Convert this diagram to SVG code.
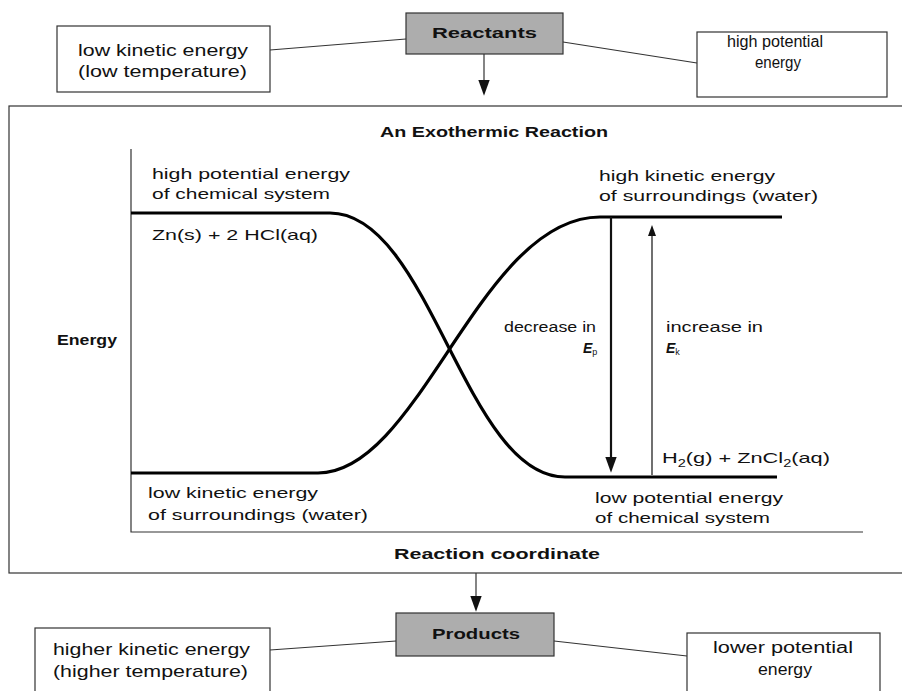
<svg xmlns="http://www.w3.org/2000/svg" width="902" height="691" viewBox="0 0 902 691">
<defs>
<style>
.t{font-family:"Liberation Sans",Arial,sans-serif;fill:#111;}
.b{font-weight:bold;}
.box{fill:#fff;stroke:#333;stroke-width:1.2;}
.gbox{fill:#adadad;stroke:#333;stroke-width:1.2;}
.con{stroke:#333;stroke-width:1.2;fill:none;}
.curve{stroke:#000;stroke-width:3.2;fill:none;}
</style>
<marker id="arr" markerUnits="userSpaceOnUse" markerWidth="16" markerHeight="12" viewBox="0 0 14 10" refX="8" refY="5" orient="auto">
<path d="M0,0 L14,5 L0,10 z" fill="#111"/>
</marker>
<marker id="arrs" markerUnits="userSpaceOnUse" markerWidth="12" markerHeight="8" viewBox="0 0 11 8" refX="5" refY="4" orient="auto">
<path d="M0,0 L11,4 L0,8 z" fill="#111"/>
</marker>
</defs>
<rect width="902" height="691" fill="#fff"/>

<g id="connectors">
<line class="con" x1="270" y1="50" x2="406" y2="39"/>
<line class="con" x1="563" y1="42" x2="697" y2="63"/>
<line class="con" x1="484" y1="54" x2="484" y2="89" marker-end="url(#arr)"/>
<line class="con" x1="476" y1="573" x2="476" y2="605" marker-end="url(#arr)"/>
<line class="con" x1="270" y1="650" x2="396" y2="641"/>
<line class="con" x1="554" y1="641" x2="687" y2="656"/>
</g>

<g id="low-ke">
<rect class="box" x="57" y="26" width="213" height="66"/>
<text class="t" x="78" y="56" font-size="17" textLength="170" lengthAdjust="spacingAndGlyphs">low kinetic energy</text>
<text class="t" x="78" y="77" font-size="17" textLength="169" lengthAdjust="spacingAndGlyphs">(low temperature)</text>
</g>

<g id="reactants">
<rect class="gbox" x="406" y="13" width="157" height="41"/>
<text class="t b" x="432" y="38" font-size="15" textLength="105" lengthAdjust="spacingAndGlyphs">Reactants</text>
</g>

<g id="high-pe">
<rect class="box" x="697" y="32" width="190" height="65"/>
<text class="t" x="727" y="47" font-size="16" textLength="96" lengthAdjust="spacingAndGlyphs">high potential</text>
<text class="t" x="755" y="68" font-size="16" textLength="46" lengthAdjust="spacingAndGlyphs">energy</text>
</g>

<g id="graph">
<rect class="con" x="9" y="106" width="905" height="467"/>
<text class="t b" x="380" y="137" font-size="15" textLength="228" lengthAdjust="spacingAndGlyphs">An Exothermic Reaction</text>
<path class="con" d="M131,149 V532 H863"/>
<path class="curve" d="M131,213 H330 C430,213 465,477 565,477 H777"/>
<path class="curve" d="M131,473 H318 C420,473 480,217 600,217 H782"/>
<line x1="611" y1="217" x2="611" y2="466" stroke="#111" stroke-width="2.2" marker-end="url(#arr)"/>
<line x1="652" y1="475" x2="652" y2="231" stroke="#111" stroke-width="1.2" marker-end="url(#arrs)"/>
<text class="t b" x="57" y="345" font-size="15" textLength="60" lengthAdjust="spacingAndGlyphs">Energy</text>
<text class="t" x="152" y="179" font-size="15" textLength="198" lengthAdjust="spacingAndGlyphs">high potential energy</text>
<text class="t" x="152" y="199" font-size="15" textLength="178" lengthAdjust="spacingAndGlyphs">of chemical system</text>
<text class="t" x="152" y="240" font-size="15" textLength="166" lengthAdjust="spacingAndGlyphs">Zn(s) + 2 HCl(aq)</text>
<text class="t" x="599" y="181" font-size="15" textLength="176" lengthAdjust="spacingAndGlyphs">high kinetic energy</text>
<text class="t" x="599" y="201" font-size="15" textLength="219" lengthAdjust="spacingAndGlyphs">of surroundings (water)</text>
<text class="t" x="596" y="332" font-size="14" text-anchor="end" textLength="92" lengthAdjust="spacingAndGlyphs">decrease in</text>
<text class="t" x="583" y="353" font-size="14" font-style="italic" font-weight="bold">E<tspan font-size="9" dy="2" font-weight="normal" font-style="normal">p</tspan></text>
<text class="t" x="666" y="332" font-size="14" textLength="97" lengthAdjust="spacingAndGlyphs">increase in</text>
<text class="t" x="666" y="353" font-size="14" font-style="italic" font-weight="bold">E<tspan font-size="9" dy="2" font-weight="normal" font-style="normal">k</tspan></text>
<text class="t" x="662" y="463" font-size="15" textLength="168" lengthAdjust="spacingAndGlyphs">H<tspan font-size="10" dy="4">2</tspan><tspan dy="-4">(g) + ZnCl</tspan><tspan font-size="10" dy="4">2</tspan><tspan dy="-4">(aq)</tspan></text>
<text class="t" x="148" y="498" font-size="15" textLength="170" lengthAdjust="spacingAndGlyphs">low kinetic energy</text>
<text class="t" x="148" y="520" font-size="15" textLength="220" lengthAdjust="spacingAndGlyphs">of surroundings (water)</text>
<text class="t" x="595" y="503" font-size="15" textLength="188" lengthAdjust="spacingAndGlyphs">low potential energy</text>
<text class="t" x="595" y="523" font-size="15" textLength="175" lengthAdjust="spacingAndGlyphs">of chemical system</text>
<text class="t b" x="394" y="559" font-size="15" textLength="206" lengthAdjust="spacingAndGlyphs">Reaction coordinate</text>
</g>

<g id="products">
<rect class="gbox" x="396" y="613" width="158" height="43"/>
<text class="t b" x="432" y="639" font-size="15" textLength="88" lengthAdjust="spacingAndGlyphs">Products</text>
</g>

<g id="higher-ke">
<rect class="box" x="35" y="628" width="235" height="80"/>
<text class="t" x="53" y="655" font-size="17" textLength="197" lengthAdjust="spacingAndGlyphs">higher kinetic energy</text>
<text class="t" x="53" y="677" font-size="17" textLength="195" lengthAdjust="spacingAndGlyphs">(higher temperature)</text>
</g>

<g id="lower-pe">
<rect class="box" x="687" y="633" width="193" height="80"/>
<text class="t" x="713" y="653" font-size="16" textLength="140" lengthAdjust="spacingAndGlyphs">lower potential</text>
<text class="t" x="758" y="675" font-size="16" textLength="54" lengthAdjust="spacingAndGlyphs">energy</text>
</g>
</svg>
